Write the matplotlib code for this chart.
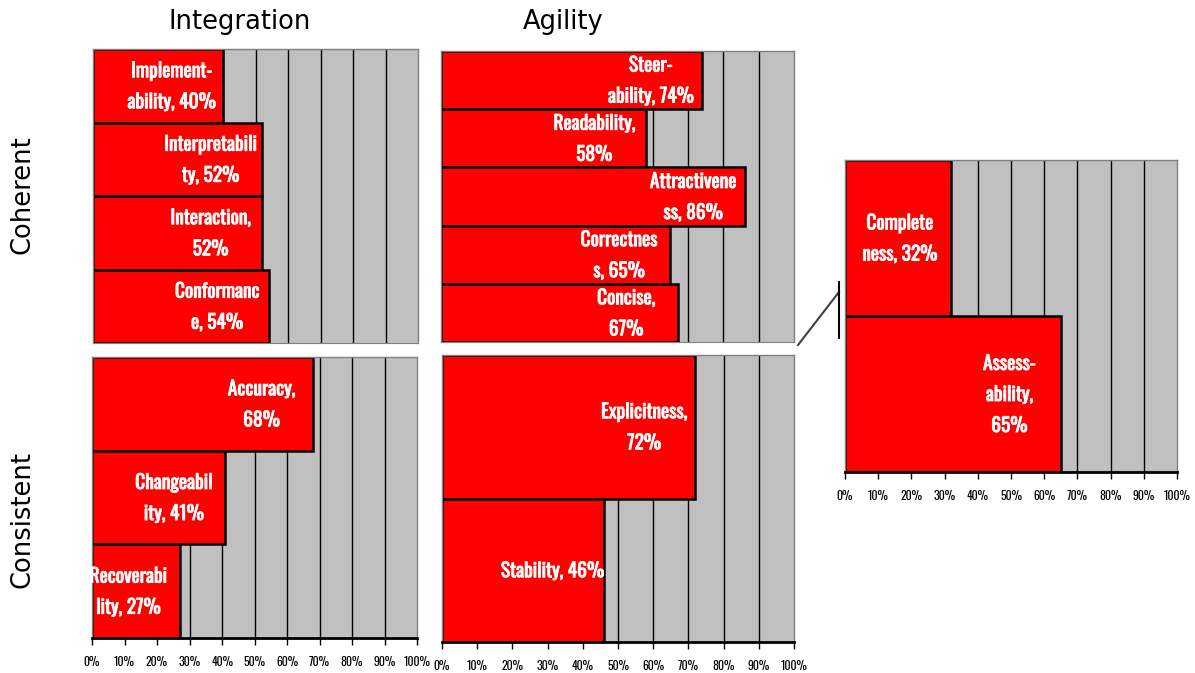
import matplotlib
matplotlib.use('Agg')
import matplotlib.pyplot as plt
import matplotlib.patheffects as pe
from matplotlib.lines import Line2D

# Scores per quality attribute, listed top to bottom within each panel
coh_int_labels = ["Implement-\nability, 40%", "Interpretabili\nty, 52%", "Interaction,\n52%", "Conformanc\ne, 54%"]
coh_int_values = [40, 52, 52, 54]

coh_agi_labels = ["Steer-\nability, 74%", "Readability,\n58%", "Attractivene\nss, 86%", "Correctnes\ns, 65%", "Concise,\n67%"]
coh_agi_values = [74, 58, 86, 65, 67]

con_int_labels = ["Accuracy,\n68%", "Changeabil\nity, 41%", "Recoverabi\nlity, 27%"]
con_int_values = [68, 41, 27]

con_agi_labels = ["Explicitness,\n72%", "Stability, 46%"]
con_agi_values = [72, 46]

extra_labels = ["Complete\nness, 32%", "Assess-\nability,\n65%"]
extra_values = [32, 65]

tick_vals = list(range(0, 101, 10))
tick_text = [f"{t}%" for t in tick_vals]

W, H = 1195, 673
fig = plt.figure(figsize=(W / 100, H / 100), dpi=100)

LABEL_FONT = ['Oswald', 'Archivo Narrow', 'DejaVu Sans']
# thicken the narrow face a little so it reads as bold
bold_fx = [pe.withStroke(linewidth=0.6, foreground="white")]


def add_panel(box, labels, values, show_ticks):
    # box given as pixel edges (x0, y0, x1, y1), y measured from the top
    x0, y0, x1, y1 = box
    ax = fig.add_axes([x0 / W, 1 - y1 / H, (x1 - x0) / W, (y1 - y0) / H])
    ax.set_facecolor("#c0c0c0")
    n = len(values)
    ax.set_xlim(0, 100)
    ax.set_ylim(n - 0.5, -0.5)
    for g in range(10, 100, 10):
        ax.axvline(g, color="black", lw=1.0, zorder=1)
    ax.barh(range(n), values, height=1.0, color="#ff0000",
            edgecolor="black", linewidth=1.8, zorder=2)
    for i, (lab, v) in enumerate(zip(labels, values)):
        ax.annotate(lab, xy=(v, i), xytext=(-37, 0), textcoords="offset points",
                    ha="center", va="center", multialignment="center",
                    color="white", fontweight="bold", fontsize=14,
                    family=LABEL_FONT, linespacing=1.65, zorder=3,
                    path_effects=bold_fx)
    for side in ("top", "right", "left"):
        ax.spines[side].set_color("#808080")
        ax.spines[side].set_linewidth(1.0)
    ax.set_yticks([])
    if show_ticks:
        ax.spines["bottom"].set_color("black")
        ax.spines["bottom"].set_linewidth(2.0)
        ax.set_xticks(tick_vals)
        ax.set_xticklabels(tick_text, family=LABEL_FONT, fontsize=8.5)
        ax.tick_params(axis="x", length=5, width=1, pad=8, color="black")
    else:
        ax.spines["bottom"].set_color("#808080")
        ax.set_xticks([])
    return ax


add_panel((93, 49, 418, 343), coh_int_labels, coh_int_values, False)
add_panel((441, 51, 794, 342), coh_agi_labels, coh_agi_values, False)
add_panel((92, 357, 417, 638), con_int_labels, con_int_values, True)
add_panel((442, 355, 794, 642), con_agi_labels, con_agi_values, True)
add_panel((845, 160, 1177, 472), extra_labels, extra_values, True)

# column and row headings
fig.text(240 / W, 1 - 22 / H, "Integration", ha="center", va="center", fontsize=18.5)
fig.text(563 / W, 1 - 22 / H, "Agility", ha="center", va="center", fontsize=18.5)
fig.text(23 / W, 1 - 195 / H, "Coherent", ha="center", va="center", rotation=90, fontsize=18.5)
fig.text(23 / W, 1 - 520 / H, "Consistent", ha="center", va="center", rotation=90, fontsize=18.5)

# connector between the middle panels and the extra panel
fig.add_artist(Line2D([798 / W, 839 / W], [1 - 345 / H, 1 - 292 / H],
                      color="#404040", lw=1.5))
fig.add_artist(Line2D([839 / W, 839 / W], [1 - 282 / H, 1 - 338 / H],
                      color="black", lw=1.5))

fig.savefig("out.png", dpi=100, facecolor="white")
